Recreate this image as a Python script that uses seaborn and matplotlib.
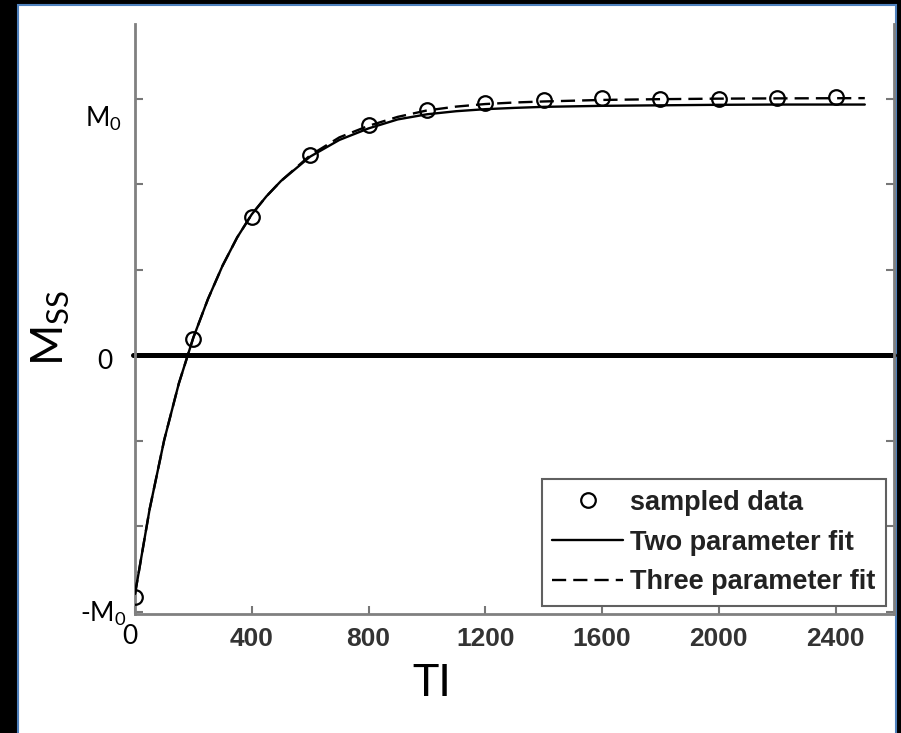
import matplotlib
matplotlib.use("Agg")
import numpy as np
import pandas as pd
import matplotlib.pyplot as plt
from matplotlib.patches import Rectangle
from matplotlib.lines import Line2D
import seaborn as sns

# sampled data (in units of M0)
ti_sampled = [0, 200, 400, 600, 800, 1000, 1200, 1400, 1600, 1800, 2000, 2200, 2400]
m_sampled = [-0.94, 0.065, 0.54, 0.78, 0.898, 0.957, 0.984, 0.996, 1.004, 1.0, 1.0, 1.005, 1.008]

# fitted curves
ti_fit = [0, 50, 100, 150, 200, 250, 300, 350, 400, 450, 500, 600, 700, 800, 900,
          1000, 1100, 1200, 1300, 1400, 1600, 1800, 2000, 2200, 2500]
m_two = [-0.93, -0.60, -0.33, -0.11, 0.07, 0.22, 0.35, 0.46, 0.55, 0.62, 0.68, 0.775, 0.84,
         0.885, 0.92, 0.94, 0.952, 0.96, 0.965, 0.969, 0.973, 0.975, 0.977, 0.978, 0.978]
m_three = [-0.93, -0.60, -0.33, -0.11, 0.07, 0.22, 0.35, 0.46, 0.55, 0.62, 0.68, 0.78, 0.85,
           0.895, 0.93, 0.955, 0.97, 0.98, 0.986, 0.99, 0.996, 0.999, 1.001, 1.002, 1.003]

x_ticks = [0, 400, 800, 1200, 1600, 2000, 2400]
x_ticklabels = ["", "400", "800", "1200", "1600", "2000", "2400"]
y_ticks = [-1, -2/3, -1/3, 0, 1/3, 2/3, 1]

legend_labels = ["sampled data", "Two parameter fit", "Three parameter fit"]

sns.set_theme(style="white")
plt.rcParams["font.family"] = ["Lato", "DejaVu Sans"]
plt.rcParams["mathtext.default"] = "regular"
plt.rcParams["text.color"] = "black"

W, H = 901, 733
fig = plt.figure(figsize=(W / 100, H / 100), dpi=100, facecolor="black")

# white slide panel with blue border
panel = Rectangle((18 / W, -0.02), (896 - 18) / W, 1.02 - 5 / H,
                  transform=fig.transFigure, facecolor="white",
                  edgecolor="#4f81bd", linewidth=1.5, zorder=-5)
fig.patches.append(panel)

ax = fig.add_axes([135 / W, 1 - 614 / H, (894 - 135) / W, (614 - 24) / H])
ax.set_zorder(1)
ax.set_facecolor("white")

fits = pd.DataFrame({"TI": ti_fit, "two": m_two, "three": m_three})
samples = pd.DataFrame({"TI": ti_sampled, "M": m_sampled})

ax.axhline(0, xmin=-0.003, color="black", lw=3.6, zorder=1, clip_on=False)
sns.lineplot(data=fits, x="TI", y="two", ax=ax, color="black", lw=1.7, zorder=3)
sns.lineplot(data=fits, x="TI", y="three", ax=ax, color="black", lw=1.7,
             dashes=(6, 3), zorder=3)
sns.lineplot(data=samples, x="TI", y="M", ax=ax, color="black", marker="o",
             markersize=10.5, mfc="none", mec="black", mew=1.6, linestyle="",
             zorder=4)

ax.set_xlim(0, 2600)
ax.set_ylim(-1.008, 1.292)
ax.set_xticks(x_ticks)
ax.set_xticklabels(x_ticklabels, fontfamily="Liberation Sans", fontsize=19,
                   fontweight="bold", color="#333333")
ax.set_yticks(y_ticks)
ax.set_yticklabels([])
ax.set_xlabel("")
ax.set_ylabel("")
ax.tick_params(axis="x", direction="in", length=6, width=1.5, color="#777777", pad=9,
               bottom=True)
ax.tick_params(axis="y", direction="in", length=6, width=1.5, color="#777777",
               left=True, right=True)
for side in ["left", "bottom", "right"]:
    ax.spines[side].set_color("#808080")
    ax.spines[side].set_linewidth(2)
ax.spines["top"].set_visible(False)

handles = [
    Line2D([], [], color="black", marker="o", markersize=10.5, mfc="none", mew=1.6, linestyle=""),
    Line2D([], [], color="black", lw=1.7),
    Line2D([], [], color="black", lw=1.7, dashes=(6, 3)),
]
leg = ax.legend(handles, legend_labels, loc="lower right",
                prop={"family": "Liberation Sans", "weight": "bold", "size": 19.5},
                frameon=True, fancybox=False, edgecolor="#606060", framealpha=1,
                handlelength=2.6, handletextpad=0.25, borderpad=0.4,
                labelspacing=0.5, borderaxespad=0.3)
leg.get_frame().set_linewidth(1.5)
for t in leg.get_texts():
    t.set_color("#222222")

# slide overlay labels
fig.text(122 / W, 1 - 119 / H, "$M_0$", ha="right", va="center", fontsize=19)
fig.text(112 / W, 1 - 362 / H, "0", ha="right", va="center", fontsize=19)
fig.text(127 / W, 1 - 614 / H, "-$M_0$", ha="right", va="center", fontsize=19)
fig.text(130 / W, 1 - 637 / H, "0", ha="center", va="center", fontsize=19)
fig.text(432 / W, 1 - 684 / H, "TI", ha="center", va="center", fontsize=32)
fig.text(51 / W, 1 - 328 / H, "$M_{SS}$", ha="center", va="center", fontsize=32,
         rotation=90)

fig.savefig("out.png", dpi=100, facecolor="black")
